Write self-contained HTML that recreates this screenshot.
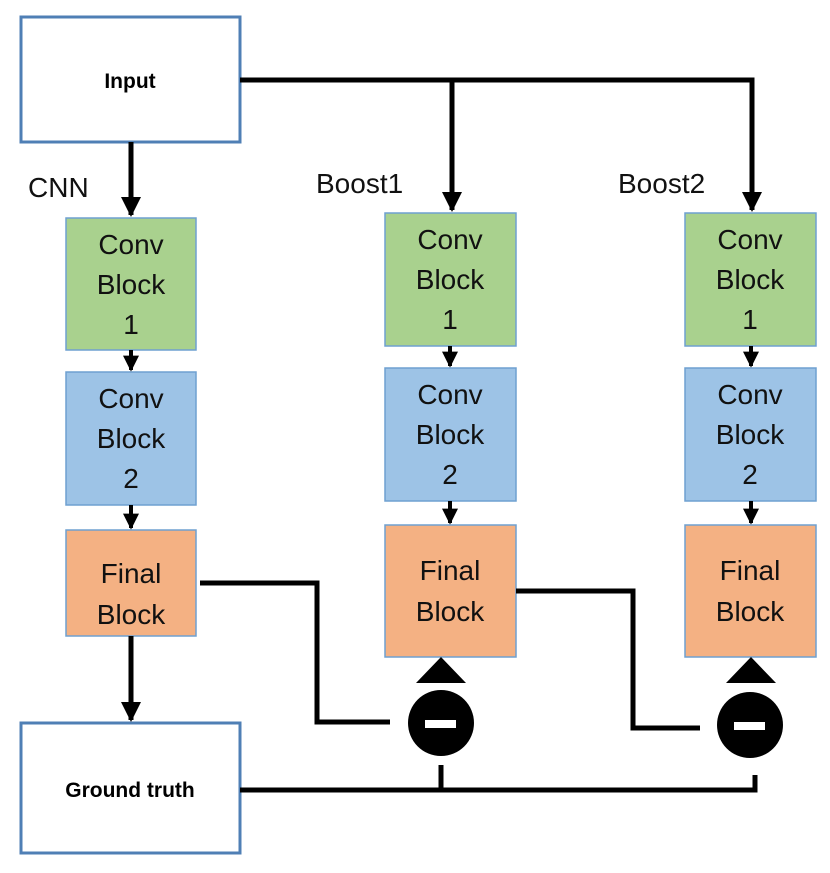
<!DOCTYPE html>
<html><head><meta charset="utf-8"><style>body{margin:0;background:#fff}svg{display:block}</style></head><body>
<svg width="830" height="873" viewBox="0 0 830 873" xmlns="http://www.w3.org/2000/svg" font-family="Liberation Sans, sans-serif">
<defs><marker id="a" viewBox="0 0 10 10" refX="9" refY="5" markerWidth="4" markerHeight="4" orient="auto"><path d="M0,0L10,5L0,10z" fill="#000"/></marker></defs>
<rect x="21" y="17" width="219" height="125" fill="#fff" stroke="#4f7fb5" stroke-width="3"/>
<text x="130" y="88" font-size="21" font-weight="bold" text-anchor="middle">Input</text>
<rect x="21" y="723" width="219" height="130" fill="#fff" stroke="#4f7fb5" stroke-width="3"/>
<text x="130" y="797" font-size="21" font-weight="bold" text-anchor="middle">Ground truth</text>
<g stroke="#6fa0d0" stroke-width="1.5">
<rect x="66" y="218" width="130" height="132" fill="#a9d18e"/>
<rect x="66" y="372" width="130" height="133" fill="#9dc3e6"/>
<rect x="66" y="530" width="130" height="106" fill="#f4b183"/>
<rect x="385" y="213" width="131" height="133" fill="#a9d18e"/>
<rect x="385" y="368" width="131" height="133" fill="#9dc3e6"/>
<rect x="385" y="525" width="131" height="132" fill="#f4b183"/>
<rect x="685" y="213" width="131" height="133" fill="#a9d18e"/>
<rect x="685" y="368" width="131" height="133" fill="#9dc3e6"/>
<rect x="685" y="525" width="131" height="132" fill="#f4b183"/>
</g>
<g font-size="28" text-anchor="middle" fill="#111">
<text x="131" y="254">Conv</text><text x="131" y="294">Block</text><text x="131" y="334">1</text>
<text x="131" y="408">Conv</text><text x="131" y="448">Block</text><text x="131" y="488">2</text>
<text x="131" y="583">Final</text><text x="131" y="624">Block</text>
<text x="450" y="249">Conv</text><text x="450" y="289">Block</text><text x="450" y="329">1</text>
<text x="450" y="404">Conv</text><text x="450" y="444">Block</text><text x="450" y="484">2</text>
<text x="450" y="580">Final</text><text x="450" y="621">Block</text>
<text x="750" y="249">Conv</text><text x="750" y="289">Block</text><text x="750" y="329">1</text>
<text x="750" y="404">Conv</text><text x="750" y="444">Block</text><text x="750" y="484">2</text>
<text x="750" y="580">Final</text><text x="750" y="621">Block</text>
</g>
<g font-size="28" fill="#111"><text x="28" y="197">CNN</text><text x="316" y="193">Boost1</text><text x="618" y="193">Boost2</text></g>
<g stroke="#000" stroke-width="5" fill="none">
<path d="M240,80H752V210" marker-end="url(#a)"/>
<path d="M452,80V210" marker-end="url(#a)"/>
<path d="M131,142V215" marker-end="url(#a)"/>
<path d="M131,636V720" marker-end="url(#a)"/>
<path d="M131,350V370" stroke-width="4" marker-end="url(#a)"/>
<path d="M131,505V528" stroke-width="4" marker-end="url(#a)"/>
<path d="M450,346V366" stroke-width="4" marker-end="url(#a)"/>
<path d="M450,501V523" stroke-width="4" marker-end="url(#a)"/>
<path d="M751,346V366" stroke-width="4" marker-end="url(#a)"/>
<path d="M751,501V523" stroke-width="4" marker-end="url(#a)"/>
<path d="M200,583H317V722H390"/>
<path d="M516,591H633V728H700"/>
<path d="M240,790H755V775"/>
<path d="M441,790V765"/>
</g>
<polygon points="441,657 416,683 466,683" fill="#000"/>
<polygon points="751,657 726,683 776,683" fill="#000"/>
<circle cx="441" cy="723" r="33" fill="#000"/>
<circle cx="750" cy="725" r="33" fill="#000"/>
<rect x="425" y="720" width="31" height="8" fill="#fff"/>
<rect x="734" y="722" width="31" height="8" fill="#fff"/>
</svg>
</body></html>
